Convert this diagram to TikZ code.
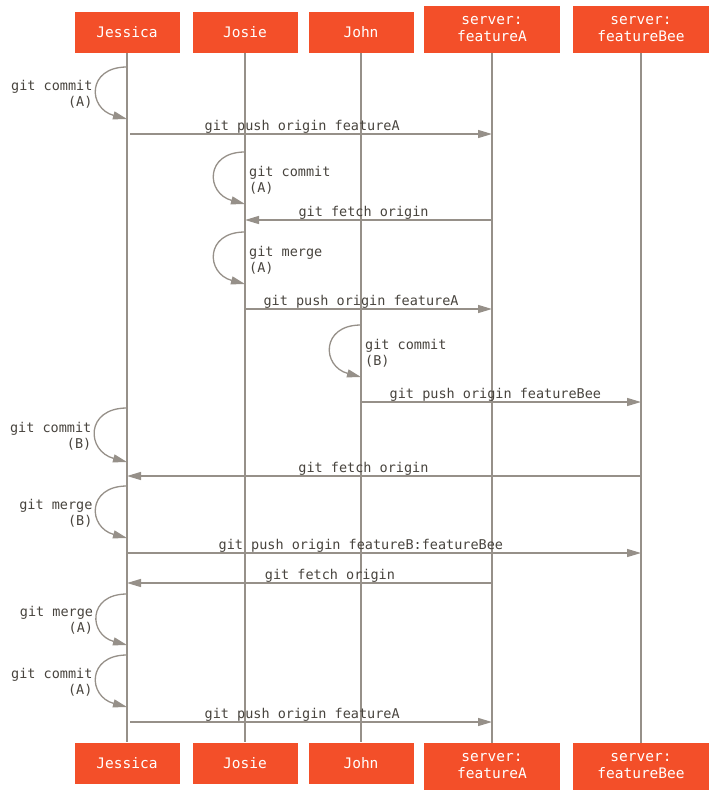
\documentclass[tikz,border=0pt]{standalone}
\usepackage{fontspec}
\setmonofont{DejaVu Sans Mono}
\usetikzlibrary{arrows.meta}
\definecolor{gitred}{RGB}{243,79,41}
\definecolor{wire}{RGB}{150,144,137}
\definecolor{ink}{RGB}{72,68,62}

\begin{document}
\begin{tikzpicture}[
  x=1pt, y=-1pt,
  font=\ttfamily\fontsize{13.5}{16}\selectfont,
  actor/.style={fill=gitred, text=white, align=center, inner sep=0pt, minimum width=105pt, minimum height=41pt, font=\ttfamily\fontsize{14.5}{17}\selectfont},
  server/.style={actor, minimum width=136pt, minimum height=47pt},
  life/.style={draw=wire, line width=1.3pt},
  msg/.style={-{Triangle[length=14pt,width=8pt]}, draw=wire, line width=1.3pt},
  selfloop/.style={msg, out=180, in=165, looseness=2},
  lbl/.style={text=ink, inner sep=1pt, yshift=-1pt, above},
  note/.style={text=ink, inner sep=2pt},
  leftnote/.style={note, left, align=right, xshift=-2pt, yshift=-5pt}
]
\useasboundingbox (0,0) rectangle (718,800);

\node[actor] (jessT) at (127,32.5) {Jessica};
\node[actor] (josT) at (245,32.5) {Josie};
\node[actor] (johnT) at (361,32.5) {John};
\node[server] (srvaT) at (492,29.5) {server:\\featureA};
\node[server] (srvbT) at (641,29.5) {server:\\featureBee};

\node[actor] (jessB) at (127,763) {Jessica};
\node[actor] (josB) at (245,763) {Josie};
\node[actor] (johnB) at (361,763) {John};
\node[server] (srvaB) at (492,766.5) {server:\\featureA};
\node[server] (srvbB) at (641,766.5) {server:\\featureBee};

\draw[life] (jessT) -- (jessB);
\draw[life] (josT) -- (josB);
\draw[life] (johnT) -- (johnB);
\draw[life] (srvaT) -- (srvaB);
\draw[life] (srvbT) -- (srvbB);

% Jessica: commit A, push
\coordinate (jc1) at (127,67); \coordinate (jc2) at (127,119);
\draw[selfloop] (jc1) to node[leftnote] (l1) {git commit\\(A)} (jc2);
\coordinate (jp1) at (127,134); \coordinate (ap1) at (492,134);
\draw[msg, shorten <=3pt] (jp1) -- node[lbl, pos=0.48] (l2) {git push origin featureA} (ap1);

% Josie: commit A, fetch, merge, push
\coordinate (oc1) at (245,152); \coordinate (oc2) at (245,204);
\draw[selfloop] (oc1) to (oc2);
\node[note, anchor=west, align=left] (l3) at (247,180) {git commit\\(A)};
\coordinate (af1) at (492,220); \coordinate (of1) at (245,220);
\draw[msg] (af1) -- node[lbl, pos=0.52] (l4) {git fetch origin} (of1);
\coordinate (om1) at (245,232); \coordinate (om2) at (245,284);
\draw[selfloop] (om1) to (om2);
\node[note, anchor=west, align=left] (l5) at (247,260) {git merge\\(A)};
\coordinate (op1) at (245,309); \coordinate (ap2) at (492,309);
\draw[msg] (op1) -- node[lbl, pos=0.47] (l6) {git push origin featureA} (ap2);

% John: commit B, push
\coordinate (hc1) at (361,325); \coordinate (hc2) at (361,377);
\draw[selfloop] (hc1) to (hc2);
\node[note, anchor=west, align=left] (l7) at (363,353) {git commit\\(B)};
\coordinate (hp1) at (361,402); \coordinate (bp1) at (641,402);
\draw[msg] (hp1) -- node[lbl, pos=0.48] (l8) {git push origin featureBee} (bp1);

% Jessica: commit B, fetch, merge, push
\coordinate (jc3) at (127,408); \coordinate (jc4) at (127,462);
\draw[selfloop] (jc3) to node[leftnote] (l9) {git commit\\(B)} (jc4);
\coordinate (bf1) at (641,476); \coordinate (jf1) at (127,476);
\draw[msg] (bf1) -- node[lbl, pos=0.54] (l10) {git fetch origin} (jf1);
\coordinate (jm1) at (127,486); \coordinate (jm2) at (127,538);
\draw[selfloop] (jm1) to node[leftnote] (l11) {git merge\\(B)} (jm2);
\coordinate (jp2) at (127,553); \coordinate (bp2) at (641,553);
\draw[msg] (jp2) -- node[lbl, pos=0.455] (l12) {git push origin featureB:featureBee} (bp2);

% Jessica: fetch A, merge, commit, push
\coordinate (af2) at (492,583); \coordinate (jf2) at (127,583);
\draw[msg] (af2) -- node[lbl, pos=0.444] (l13) {git fetch origin} (jf2);
\coordinate (jm3) at (127,594); \coordinate (jm4) at (127,645);
\draw[selfloop] (jm3) to node[leftnote] (l14) {git merge\\(A)} (jm4);
\coordinate (jc5) at (127,655); \coordinate (jc6) at (127,707);
\draw[selfloop] (jc5) to node[leftnote] (l15) {git commit\\(A)} (jc6);
\coordinate (jp3) at (127,722); \coordinate (ap3) at (492,722);
\draw[msg, shorten <=3pt] (jp3) -- node[lbl, pos=0.48] (l16) {git push origin featureA} (ap3);

\end{tikzpicture}
\end{document}
